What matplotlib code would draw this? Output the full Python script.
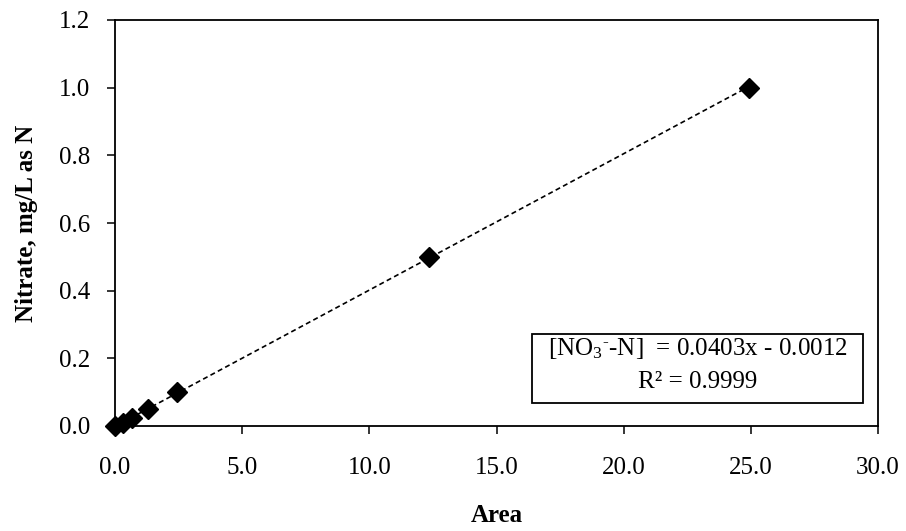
import matplotlib
matplotlib.use("Agg")
import matplotlib.pyplot as plt
from matplotlib.patches import Rectangle
import numpy as np

# Calibration standards: peak area vs nitrate concentration
area = [0.0, 0.33, 0.67, 1.3, 2.42, 12.35, 24.93]
nitrate = [0.0, 0.01, 0.025, 0.05, 0.1, 0.5, 1.0]

# Linear trendline reported on the chart
slope = 0.0403
intercept = -0.0012
r_squared = 0.9999

x_ticks = [0, 5, 10, 15, 20, 25, 30]
y_ticks = [0.0, 0.2, 0.4, 0.6, 0.8, 1.0, 1.2]

plt.rcParams["font.family"] = ["Liberation Serif", "DejaVu Serif"]
plt.rcParams["mathtext.fontset"] = "custom"
plt.rcParams["mathtext.rm"] = "Liberation Serif"
plt.rcParams["mathtext.it"] = "Liberation Serif:italic"
plt.rcParams["mathtext.bf"] = "Liberation Serif:bold"

fig = plt.figure(figsize=(9.06, 5.31), dpi=100)
ax = fig.add_axes([115 / 906, 1 - 426 / 531, 763 / 906, 406 / 531])

# trendline across the range of standards
fit_x = np.array([min(area), max(area)])
fit_y = slope * fit_x + intercept
ax.plot(fit_x, fit_y, color="black", linestyle=(0, (3, 2)), linewidth=1.2, zorder=2)

ax.plot(area, nitrate, linestyle="none", marker="D", markersize=10.5,
        color="black", clip_on=False, zorder=3)

ax.set_xlim(0, 30)
ax.set_ylim(0, 1.2)
ax.set_xticks(x_ticks)
ax.set_yticks(y_ticks)
ax.set_xticklabels([f"{v:.1f}" for v in x_ticks])
ax.set_yticklabels([f"{v:.1f}" for v in y_ticks])
ax.tick_params(direction="out", length=6, width=1.1, labelsize=18,
               colors="black")
ax.tick_params(axis="x", pad=16)
ax.tick_params(axis="y", pad=12)
for side in ax.spines.values():
    side.set_linewidth(1.3)

ax.set_xlabel("Area", fontsize=18, fontweight="bold", labelpad=18)
ax.set_ylabel("Nitrate, mg/L as N", fontsize=18, fontweight="bold", labelpad=15)

# equation box
ax.add_patch(Rectangle((0.5465, 0.0567), 0.4338, 0.170, transform=ax.transAxes,
                       facecolor="white", edgecolor="black", linewidth=1.3,
                       zorder=4))
eq_line = "[NO$_3$$^{\u2010}$-N]  = " + f"{slope:.4f}x - {abs(intercept):.4f}"
r2_line = f"R\u00b2 = {r_squared:.4f}"
ax.text(0.7634, 0.192, eq_line, transform=ax.transAxes, ha="center", va="center",
        fontsize=18, zorder=5)
ax.text(0.7634, 0.108, r2_line, transform=ax.transAxes, ha="center", va="center",
        fontsize=18, zorder=5)

fig.savefig("out.png", dpi=100)
